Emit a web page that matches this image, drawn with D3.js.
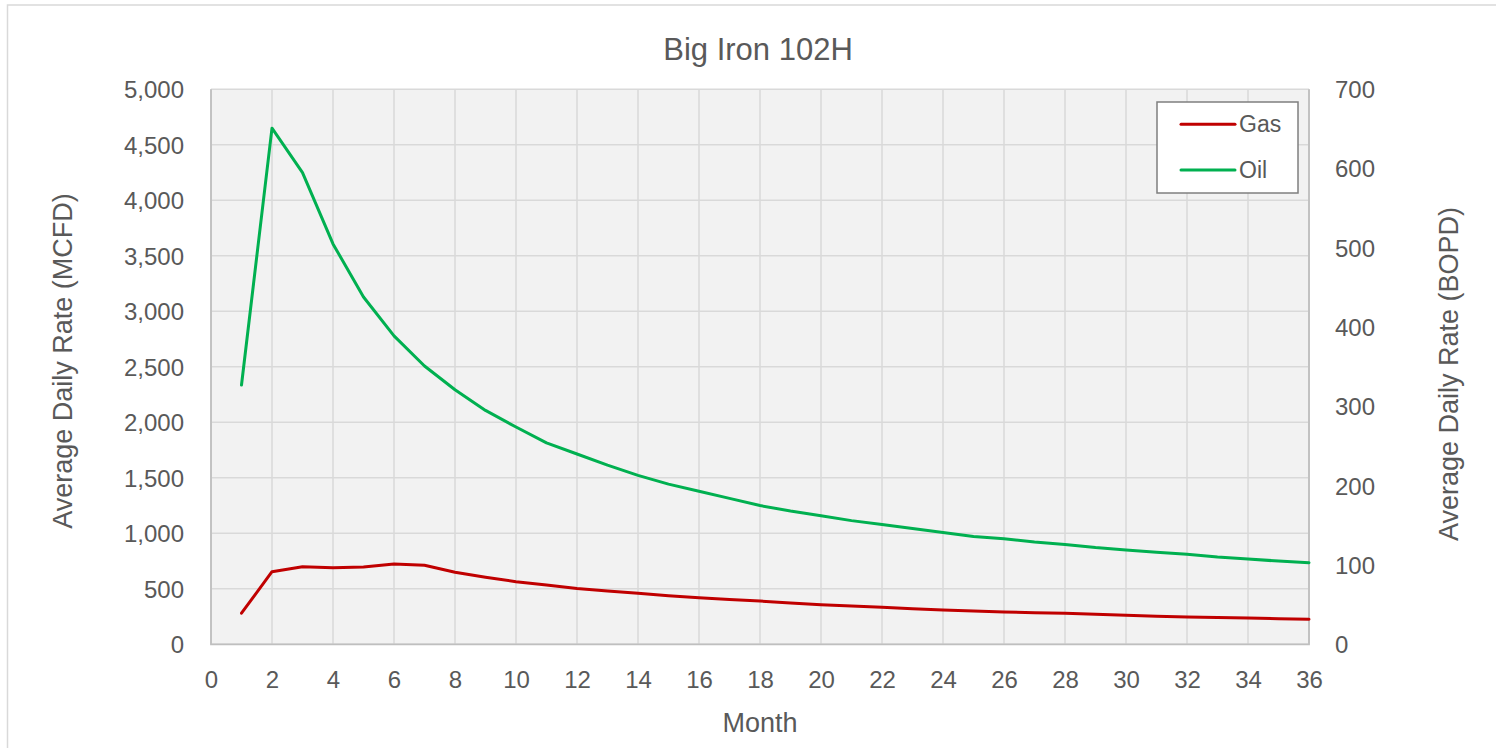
<!DOCTYPE html>
<html><head><meta charset="utf-8">
<script src="https://cdn.jsdelivr.net/npm/d3@7"></script>
<style>body{margin:0;background:#fff}svg{display:block}text{fill:#595959}</style>
</head><body><svg id="c" width="1496" height="748"></svg>
<script>
const months = d3.range(1, 37);
const gas = [280, 654, 699, 690, 697, 723, 712, 649, 604, 564, 534, 502, 480, 459, 438, 420, 404, 390, 373, 357, 345, 333, 321, 309, 300, 291, 285, 279, 270, 261, 253, 246, 241, 237, 231, 225];
const oil = [327, 651, 595, 505, 438, 389, 351, 321, 295, 274, 254, 240, 226, 213, 202, 193, 184, 175, 168, 162, 156, 151, 146, 141, 136, 133, 129, 126, 122, 119, 116, 113.5, 110, 107.5, 105, 103];
const xTicks = d3.range(0, 37, 2);
const leftTicks = d3.range(0, 5001, 500);
const rightTicks = d3.range(0, 701, 100);
const seriesNames = ["Gas", "Oil"];
const colors = ["#c00000", "#00b050"];

const svg = d3.select("#c");
const L = 211, R = 1309, T = 89.3, B = 644.3;
const x = d3.scaleLinear().domain([0, 36]).range([L, R]);
const yL = d3.scaleLinear().domain([0, 5000]).range([B, T]);
const yR = d3.scaleLinear().domain([0, 700]).range([B, T]);

// outer border
svg.append("path").attr("d", `M7.5,748 V5 H1496`).attr("fill","none").attr("stroke","#d9d9d9").attr("stroke-width",1.5);

svg.append("rect").attr("x", L).attr("y", T).attr("width", R-L).attr("height", B-T).attr("fill", "#f2f2f2");

const g = svg.append("g");
g.selectAll(".hg").data(leftTicks).join("line").attr("x1", L).attr("x2", R)
  .attr("y1", d => yL(d)).attr("y2", d => yL(d)).attr("stroke", "#d9d9d9").attr("stroke-width", 1.5);
g.selectAll(".vg").data(xTicks).join("line").attr("y1", T).attr("y2", B)
  .attr("x1", d => x(d)).attr("x2", d => x(d)).attr("stroke", "#d9d9d9").attr("stroke-width", 1.5);

// axis frame lines
svg.append("path").attr("d", `M${L},${T} V${B} H${R} V${T}`).attr("fill","none").attr("stroke","#bfbfbf").attr("stroke-width",1.8);

const font = "'Liberation Sans', Arial, sans-serif";
// axes via d3
const ax = svg.append("g").attr("transform", `translate(0,${B})`)
  .call(d3.axisBottom(x).tickValues(xTicks).tickSize(0).tickPadding(0).tickFormat(d3.format("d")));
ax.select(".domain").remove();
ax.selectAll("text").attr("y", 43.5).attr("dy", null).style("font", `24px ${font}`).style("fill", "#595959");

const al = svg.append("g").attr("transform", `translate(${L},0)`)
  .call(d3.axisLeft(yL).tickValues(leftTicks).tickSize(0).tickPadding(0).tickFormat(d3.format(",")));
al.select(".domain").remove();
al.selectAll("text").attr("x", -27).attr("dy", "0.35em").style("font", `24px ${font}`).style("fill", "#595959");

const ar = svg.append("g").attr("transform", `translate(${R},0)`)
  .call(d3.axisRight(yR).tickValues(rightTicks).tickSize(0).tickPadding(0).tickFormat(d3.format("d")));
ar.select(".domain").remove();
ar.selectAll("text").attr("x", 26).attr("dy", "0.35em").style("font", `24px ${font}`).style("fill", "#595959");

// lines
const line = (ys, arr) => d3.line().x((d, i) => x(months[i])).y(d => ys(d))(arr);
svg.append("path").attr("d", line(yL, gas)).attr("fill","none").attr("stroke", colors[0]).attr("stroke-width", 3).attr("stroke-linejoin","round").attr("stroke-linecap","round");
svg.append("path").attr("d", line(yR, oil)).attr("fill","none").attr("stroke", colors[1]).attr("stroke-width", 3).attr("stroke-linejoin","round").attr("stroke-linecap","round");

// titles
svg.append("text").attr("x", 758).attr("y", 60).attr("text-anchor","middle").style("font", `31px ${font}`).text("Big Iron 102H");
svg.append("text").attr("x", 760).attr("y", 732).attr("text-anchor","middle").style("font", `27px ${font}`).text("Month");
svg.append("text").attr("transform","translate(72,361) rotate(-90)").attr("text-anchor","middle").style("font", `27px ${font}`).text("Average Daily Rate (MCFD)");
svg.append("text").attr("transform","translate(1458,374) rotate(-90)").attr("text-anchor","middle").style("font", `27px ${font}`).text("Average Daily Rate (BOPD)");

// legend
const lg = svg.append("g");
lg.append("rect").attr("x", 1157).attr("y", 102).attr("width", 141).attr("height", 91).attr("fill","#fff").attr("stroke","#7f7f7f").attr("stroke-width",1.5);
const ly = [124.3, 170];
seriesNames.forEach((n, i) => {
  lg.append("line").attr("x1", 1181).attr("x2", 1235).attr("y1", ly[i]).attr("y2", ly[i]).attr("stroke", colors[i]).attr("stroke-width", 3).attr("stroke-linecap","round");
  lg.append("text").attr("x", 1239).attr("y", ly[i] + 8).style("font", `23px ${font}`).text(n);
});
</script></body></html>
